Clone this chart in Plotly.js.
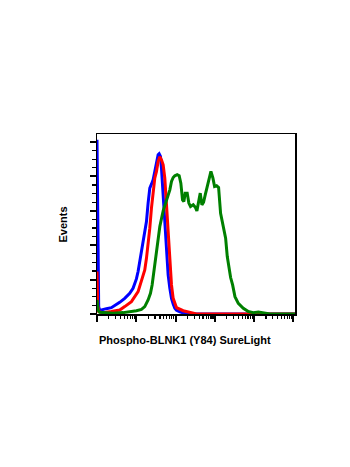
<!DOCTYPE html>
<html>
<head>
<meta charset="utf-8">
<script src="https://cdn.plot.ly/plotly-3.0.1.min.js"></script>
<style>html,body{margin:0;padding:0;background:#fff;}#chart{width:350px;height:467px;}</style>
</head>
<body>
<div id="chart"></div>
<script>
// Fluorescence intensity given as log10 decades; events as % of axis scale
const blueLog = [0.000,0.017,0.043,0.068,0.153,0.238,0.366,0.451,0.578,0.706,0.833,0.918,1.003,1.046,1.088,1.131,1.173,1.216,1.259,1.301,1.344,1.386,1.429,1.471,1.514,1.556,1.582,1.616,1.641,1.684,1.726,1.769,1.811,1.854,1.896,1.939,1.981,2.024,2.109,2.236,2.406,5.043];
const blueEvents = [101.4,51.8,4.3,2.1,2.7,3.1,3.7,4.9,6.8,9.1,12.0,15.0,20.4,24.7,30.5,35.3,40.2,46.0,53.8,64.5,73.2,75.5,78.1,82.9,88.7,92.6,93.2,91.6,84.9,69.3,49.9,32.4,22.7,15.0,9.1,5.8,3.3,2.1,1.2,0.4,0,0];

const redLog = [0.000,0.017,0.043,0.153,0.366,0.578,0.706,0.876,1.046,1.131,1.216,1.259,1.301,1.344,1.386,1.429,1.471,1.514,1.556,1.599,1.641,1.684,1.726,1.769,1.811,1.854,1.896,1.939,2.024,2.194,2.364,2.534,5.043];
const redEvents = [24.7,5.2,1.4,0.8,1.4,2.3,4.3,7.2,13.0,18.8,25.6,32.4,40.2,49.9,61.6,71.3,79.0,82.9,88.7,91.5,89.7,86.8,79.0,63.5,46.0,28.5,16.9,9.1,3.7,1.9,0.8,0,0];

const greenLog = [0.000,0.026,0.068,0.238,0.408,0.663,0.833,1.003,1.131,1.216,1.301,1.361,1.403,1.446,1.488,1.531,1.599,1.684,1.769,1.854,1.896,1.939,1.981,2.041,2.092,2.134,2.177,2.211,2.245,2.296,2.338,2.381,2.449,2.508,2.543,2.585,2.628,2.670,2.713,2.755,2.806,2.849,2.900,2.951,2.993,3.044,3.095,3.146,3.189,3.231,3.274,3.316,3.359,3.401,3.452,3.512,3.597,3.724,3.852,3.980,4.107,4.235,4.405,5.043];
const greenEvents = [8.2,2.3,1.0,0.6,0.4,0.8,1.2,1.9,2.7,4.3,8.2,12.0,16.9,24.7,33.4,41.2,50.9,60.0,66.4,72.2,77.1,79.4,80.4,81.0,80.4,76.1,66.4,65.4,70.3,70.3,64.5,62.5,63.5,61.9,60.0,66.4,70.3,63.5,65.0,69.3,74.2,78.1,82.9,79.0,74.2,74.6,73.6,58.6,53.8,49.9,44.1,33.4,26.6,21.2,16.9,10.1,6.2,3.3,1.4,0.8,1.2,0.6,0,0];

const xTitle = "Phospho-BLNK1 (Y84) SureLight";
const yTitle = "Events";

const toLin = a => a.map(v => Math.pow(10, v));

const series = [
  {x: blueLog, y: blueEvents, color: "#0000ff"},
  {x: redLog, y: redEvents, color: "#ff0000"},
  {x: greenLog, y: greenEvents, color: "#008000"}
];

const traces = series.map(s => ({
  x: toLin(s.x), y: s.y, type: "scatter", mode: "lines",
  line: {color: s.color, width: 3}, hoverinfo: "skip", showlegend: false
}));

const minorX = [];
for (let d = 0; d < 5; d++) for (let k = 2; k <= 9; k++) minorX.push(k * Math.pow(10, d));

const layout = {
  width: 350, height: 467,
  margin: {l: 97, r: 55, t: 134, b: 153},
  paper_bgcolor: "#fff", plot_bgcolor: "#fff",
  showlegend: false,
  xaxis: {
    type: "log", range: [0, 5.04], showgrid: false, zeroline: false,
    showline: true, linecolor: "#000", linewidth: 1.5, mirror: true,
    ticks: "outside", ticklen: 6, tickwidth: 2, tickcolor: "#000",
    tickmode: "array", tickvals: [1, 10, 100, 1000, 10000, 100000], showticklabels: false,
    minor: {tickmode: "array", tickvals: minorX, ticks: "outside", ticklen: 3.5, tickwidth: 1.2, tickcolor: "#000", showgrid: false}
  },
  yaxis: {
    range: [0, 104.7], showgrid: false, zeroline: false,
    showline: true, linecolor: "#000", linewidth: 1.5, mirror: true,
    ticks: "outside", ticklen: 6, tickwidth: 2, tickcolor: "#000",
    dtick: 20, tick0: 0, showticklabels: false,
    minor: {dtick: 5, ticks: "outside", ticklen: 3.5, tickwidth: 1.2, tickcolor: "#000", showgrid: false}
  },
  annotations: [
    {text: "<b>" + xTitle + "</b>", xref: "paper", yref: "paper", x: 0.444, y: -0.144,
     xanchor: "center", yanchor: "middle", showarrow: false,
     font: {family: "Liberation Sans, Arial, sans-serif", size: 11, color: "#000"}},
    {text: "<b>" + yTitle + "</b>", xref: "paper", yref: "paper", x: -0.172, y: 0.497,
     xanchor: "center", yanchor: "middle", showarrow: false, textangle: -90,
     font: {family: "Liberation Sans, Arial, sans-serif", size: 11, color: "#000"}}
  ]
};

Plotly.newPlot("chart", traces, layout, {staticPlot: true, displayModeBar: false});
</script>
</body>
</html>
